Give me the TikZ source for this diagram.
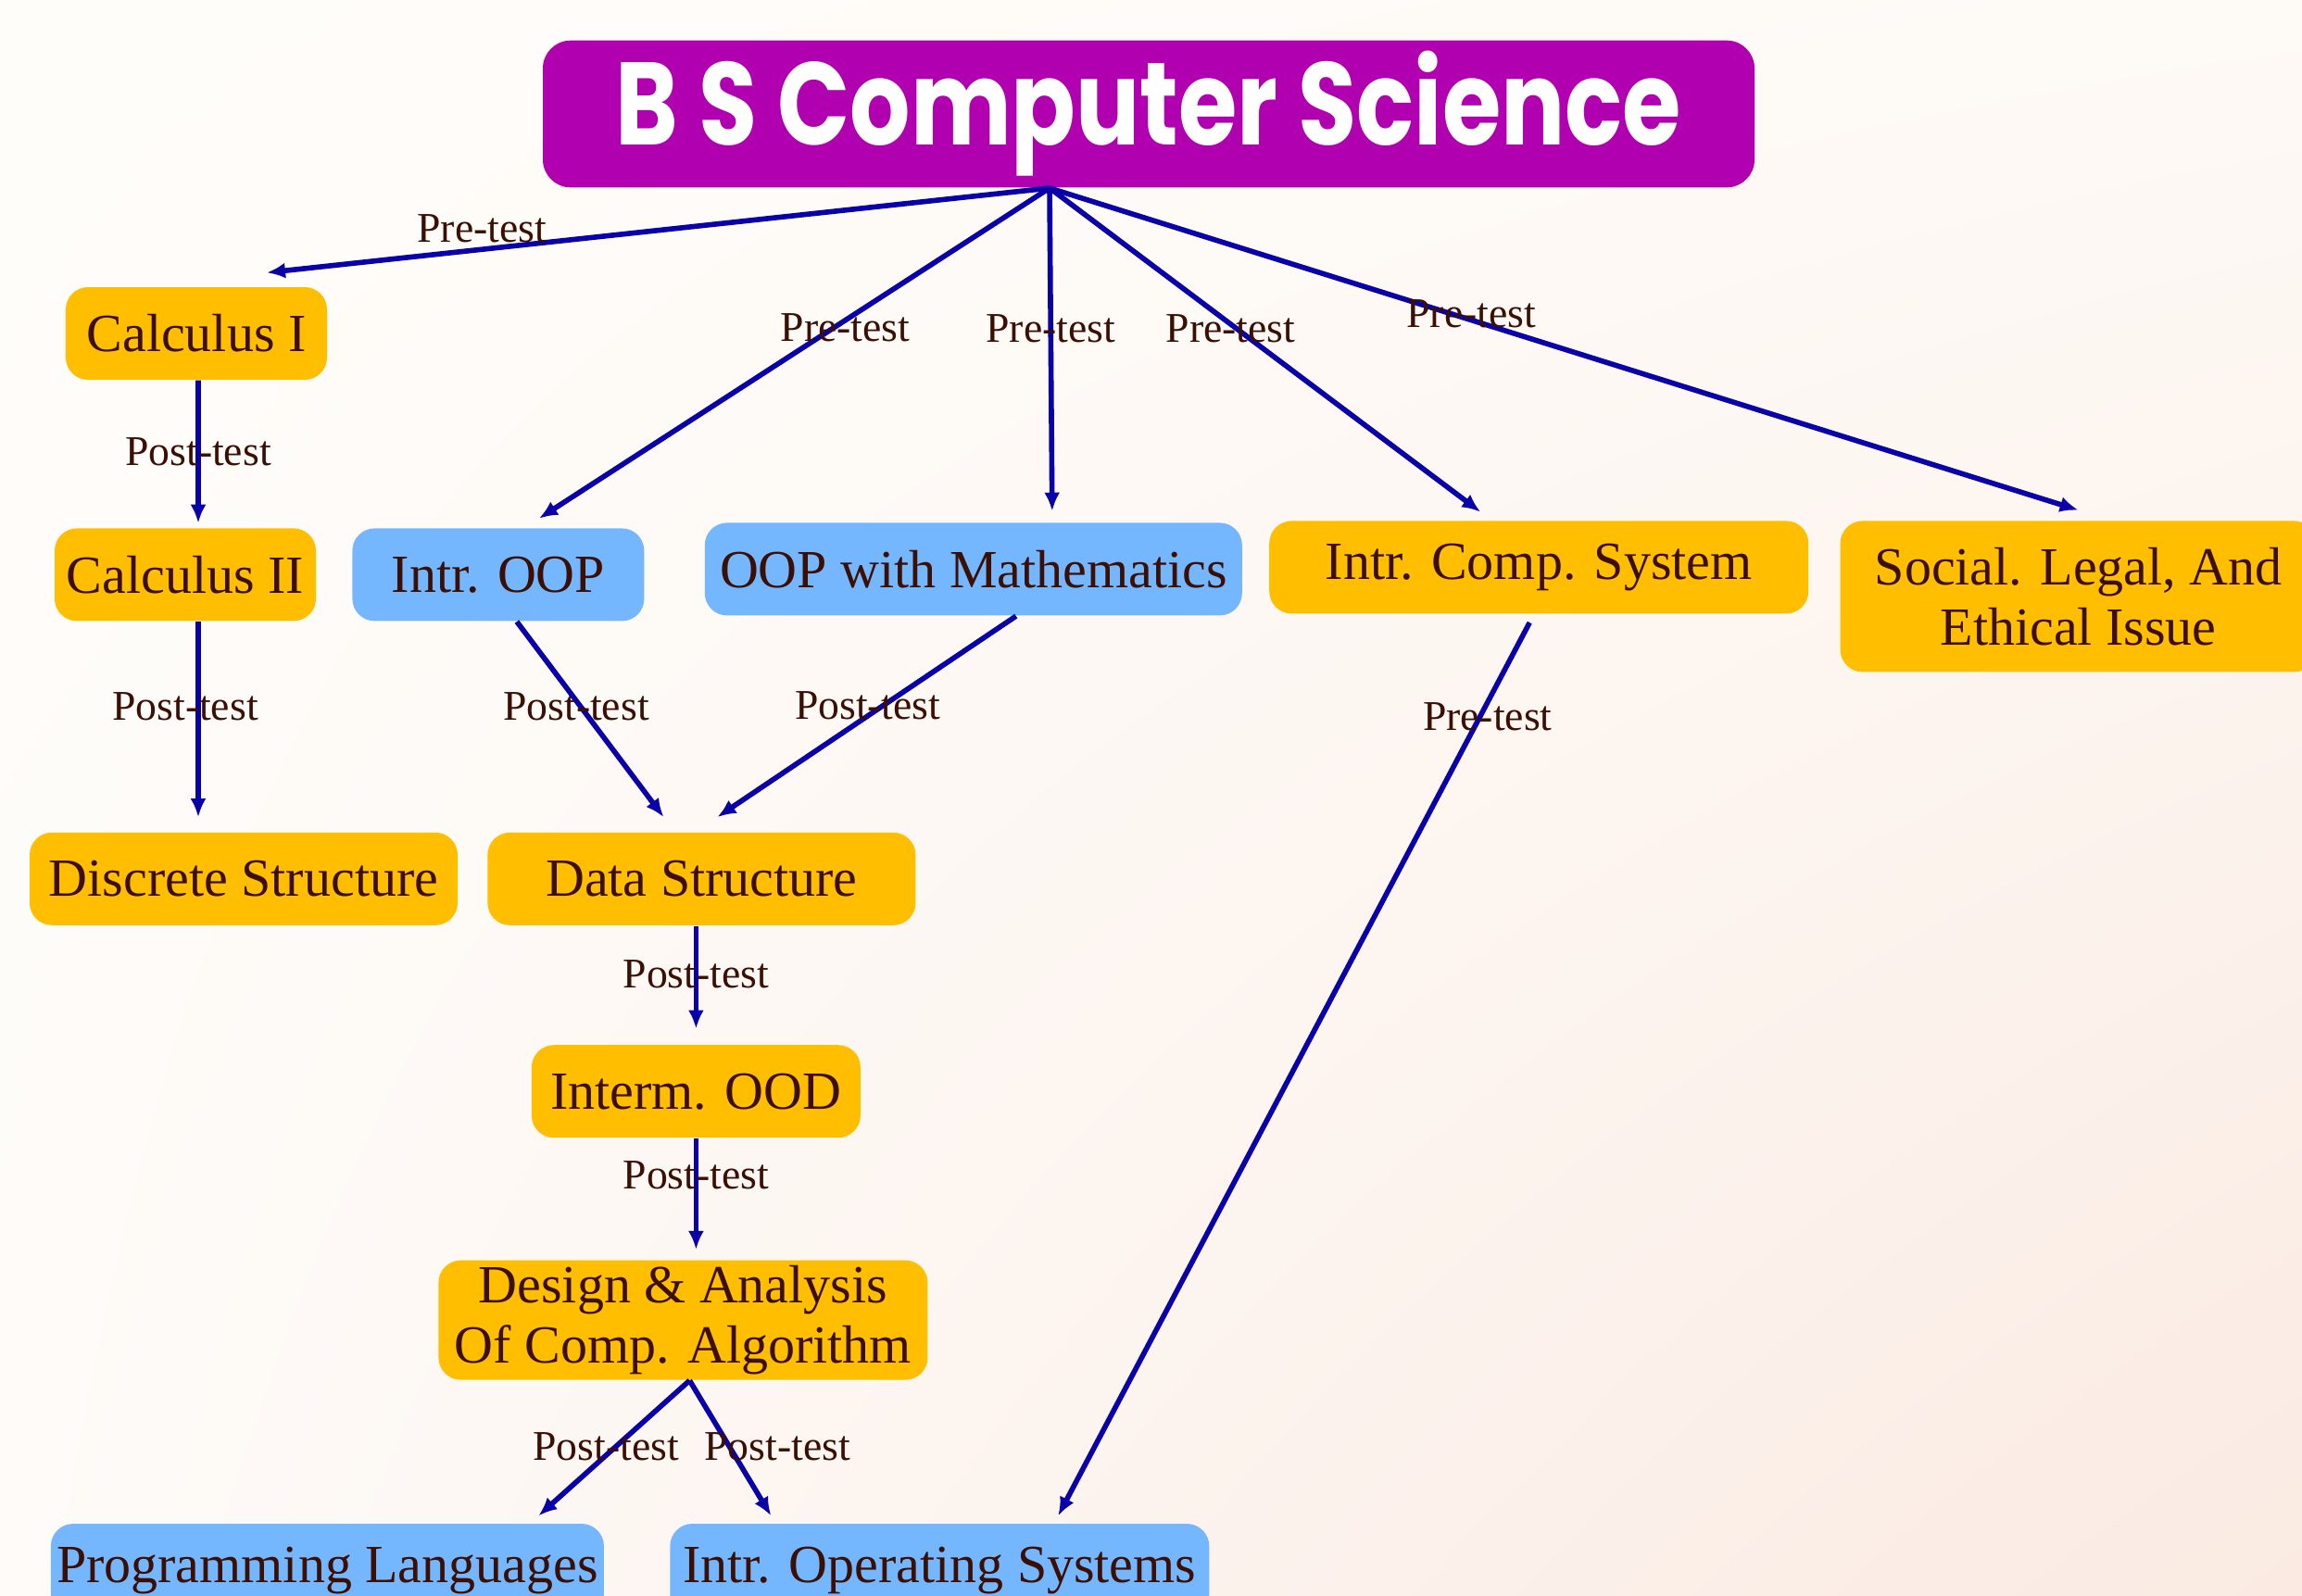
\documentclass[tikz,border=0pt]{standalone}
\usepackage{graphicx}
\usepackage{fontspec}
\setmainfont{Liberation Serif}
\newfontfamily\titlefont{Poppins}
\usetikzlibrary{positioning,arrows.meta,shadings}

\definecolor{amber}{RGB}{255,191,0}
\definecolor{skyblue}{RGB}{116,183,255}
\definecolor{titlepurple}{RGB}{176,0,176}
\definecolor{arrowblue}{RGB}{10,0,170}
\definecolor{inkbrown}{RGB}{60,15,5}
\definecolor{bgnw}{RGB}{255,253,250}
\definecolor{bgne}{RGB}{254,250,246}
\definecolor{bgsw}{RGB}{254,251,248}
\definecolor{bgse}{RGB}{250,234,226}

\tikzset{
  course/.style={rounded corners=0.24cm, fill=amber, text=inkbrown, minimum height=1cm,
    inner sep=0pt, align=center, font=\fontsize{16.5}{18.5}\selectfont},
  elective/.style={course, fill=skyblue},
  link/.style={draw=arrowblue, line width=1.6pt, -{Latex[length=0.2cm,width=0.17cm]}},
  lbl/.style={text=inkbrown, inner sep=1pt, font=\fontsize{13}{15}\selectfont},
}

\begin{document}
\begin{tikzpicture}

  % background
  \shade[upper left=bgnw, upper right=bgne, lower left=bgsw, lower right=bgse]
    (0,0) rectangle (24.85,-17.22);
  \useasboundingbox (0,0) rectangle (24.85,-17.22);

  \node[fill=titlepurple, rounded corners=0.3cm, minimum width=13.08cm, minimum height=1.44cm, text=white]
    (title) at (12.40,-1.23) {\titlefont\bfseries\fontsize{35}{40}\selectfont\scalebox{0.835}[1.03]{B S Computer Science}};
  \coordinate (hub) at ([xshift=-1.07cm]title.south);

  % first year
  \node[course, minimum width=2.82cm] (calc1) at (2.12,-3.60) {Calculus I};
  \node[course, minimum width=2.82cm, below=1.59cm of calc1, xshift=-0.12cm] (calc2) {Calculus II};
  \node[course, minimum width=4.62cm, below=2.27cm of calc2, xshift=0.63cm] (discrete) {Discrete Structure};

  \node[elective, minimum width=3.15cm, right=0.38cm of calc2] (ioop) {Intr. OOP};
  \node[elective, minimum width=5.80cm, right=0.64cm of ioop, yshift=0.06cm] (oopm) {OOP with Mathematics};
  \node[course, minimum width=5.82cm, right=0.28cm of oopm, yshift=0.02cm] (ics) {\raisebox{-0.06cm}{Intr. Comp. System}};
  \node[course, minimum width=5.14cm, minimum height=1.63cm, right=0.33cm of ics.north east, anchor=north west]
    (social) {Social. Legal, And\\Ethical Issue};

  % core chain
  \node[course, minimum width=4.62cm, right=0.31cm of discrete] (ds) {Data Structure};
  \node[course, minimum width=3.55cm, below=1.28cm of ds, xshift=-0.06cm] (iood) {Interm. OOD};
  \node[course, minimum width=5.28cm, minimum height=1.29cm, below=1.31cm of iood, xshift=-0.14cm]
    (daa) {Design \& Analysis\\Of Comp. Algorithm};
  \node[elective, minimum width=5.97cm, below=1.54cm of daa, xshift=-3.84cm] (pl) {Programming Languages};
  \node[elective, minimum width=5.82cm, right=0.70cm of pl] (ios) {Intr. Operating Systems};

  % pre-tests
  \draw[link] (hub) -- node[lbl, pos=.725, yshift=.22cm] {Pre-test} ([xshift=.76cm,yshift=.15cm]calc1.north);
  \draw[link] (hub) -- node[lbl, pos=.40, yshift=-.08cm] {Pre-test} ([xshift=.44cm,yshift=.10cm]ioop.north);
  \draw[link] (hub) -- node[lbl, pos=.435] {Pre-test} ([xshift=.85cm,yshift=.12cm]oopm.north);
  \draw[link] (hub) -- node[lbl, pos=.42, yshift=-.05cm] {Pre-test} ([xshift=-.63cm,yshift=.09cm]ics.north);
  \draw[link] (hub) -- node[lbl, pos=.41, yshift=.07cm] {Pre-test} ([yshift=.11cm]social.north);
  \draw[link] ([xshift=-.10cm,yshift=-.09cm]ics.south) -- node[lbl, pos=.105, xshift=.08cm] {Pre-test}
    ([xshift=1.28cm,yshift=.08cm]ios.north);

  % post-tests
  \draw[link] ([xshift=.02cm]calc1.south) -- node[lbl, pos=.5] {Post-test} ([xshift=.14cm,yshift=.05cm]calc2.north);
  \draw[link] ([xshift=.14cm]calc2.south) -- node[lbl, pos=.436, xshift=-.14cm] {Post-test}
    ([xshift=-.49cm,yshift=.16cm]discrete.north);
  \draw[link] ([xshift=.20cm]ioop.south) -- node[lbl, pos=.436, xshift=-.05cm] {Post-test}
    ([xshift=-.41cm,yshift=.16cm]ds.north);
  \draw[link] ([xshift=.46cm]oopm.south) -- node[lbl, pos=.447, xshift=-.16cm] {Post-test}
    ([xshift=.17cm,yshift=.16cm]ds.north);
  \draw[link] ([xshift=-.06cm]ds.south) -- node[lbl, pos=.47] {Post-test} ([yshift=.17cm]iood.north);
  \draw[link] (iood.south) -- node[lbl, pos=.33] {Post-test} ([xshift=.14cm,yshift=.11cm]daa.north);
  \draw[link] ([xshift=.07cm]daa.south) -- node[lbl, pos=.486, xshift=-.11cm] {Post-test}
    ([xshift=2.28cm,yshift=.08cm]pl.north);
  \draw[link] ([xshift=.07cm]daa.south) -- node[lbl, pos=.486, xshift=.52cm] {Post-test}
    ([xshift=-1.82cm,yshift=.08cm]ios.north);

\end{tikzpicture}
\end{document}
